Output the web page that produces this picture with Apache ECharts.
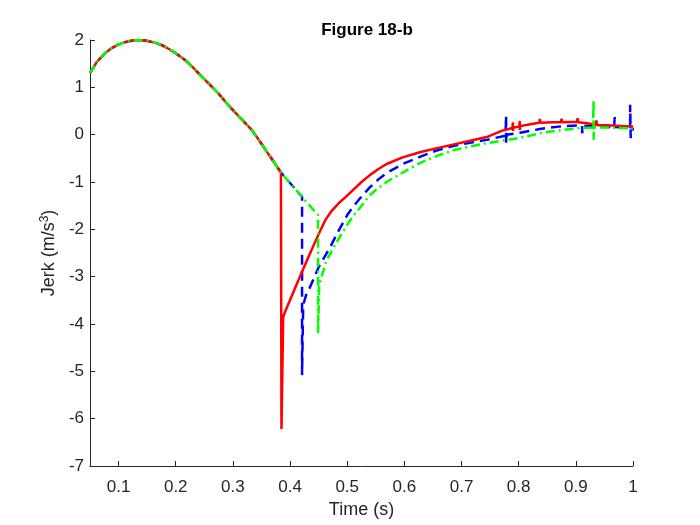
<!DOCTYPE html>
<html>
<head>
<meta charset="utf-8">
<script src="https://cdn.jsdelivr.net/npm/echarts@6/dist/echarts.min.js"></script>
<style>html,body{margin:0;padding:0;background:#fff}#c{width:700px;height:525px}</style>
</head>
<body>
<div id="c"></div>
<script>
// Shared portion of all three curves (time s, jerk m/s^3)
var tCommon = [0.05, 0.062, 0.076, 0.088, 0.099, 0.11, 0.12, 0.13, 0.137, 0.146, 0.155, 0.165, 0.176, 0.188, 0.2, 0.216, 0.23, 0.246, 0.26, 0.274, 0.288, 0.303, 0.318, 0.333, 0.347, 0.361, 0.373, 0.384];
var vCommon = [1.3, 1.54, 1.72, 1.83, 1.9, 1.95, 1.98, 1.995, 2.0, 1.99, 1.97, 1.94, 1.89, 1.81, 1.72, 1.58, 1.42, 1.22, 1.05, 0.88, 0.68, 0.48, 0.29, 0.1, -0.14, -0.39, -0.6, -0.8];

// Red (solid) after divergence
var tRed = [0.385, 0.388, 0.392, 0.405, 0.42, 0.436, 0.452, 0.462, 0.472, 0.485, 0.497, 0.51, 0.525, 0.539, 0.554, 0.569, 0.597, 0.627, 0.655, 0.685, 0.715, 0.744, 0.77, 0.789, 0.79, 0.79, 0.791, 0.801, 0.802, 0.802, 0.803, 0.82, 0.836, 0.837, 0.838, 0.86, 0.874, 0.875, 0.876, 0.89, 0.902, 0.903, 0.904, 0.92, 0.935, 0.936, 0.937, 0.955, 0.97, 0.985, 1.0];
var vRed = [-6.22, -3.85, -3.72, -3.35, -2.92, -2.48, -2.05, -1.8, -1.62, -1.45, -1.32, -1.17, -1.0, -0.86, -0.73, -0.62, -0.48, -0.37, -0.29, -0.21, -0.13, -0.05, 0.08, 0.14, 0.26, 0.08, 0.15, 0.17, 0.29, 0.1, 0.18, 0.22, 0.25, 0.33, 0.25, 0.26, 0.26, 0.34, 0.26, 0.27, 0.27, 0.35, 0.26, 0.24, 0.21, 0.3, 0.2, 0.2, 0.19, 0.18, 0.17];

// Blue (dashed) after divergence
var tBlue = [0.421, 0.421, 0.423, 0.429, 0.435, 0.45, 0.47, 0.484, 0.501, 0.51, 0.522, 0.539, 0.554, 0.569, 0.597, 0.627, 0.655, 0.685, 0.715, 0.744, 0.777, 0.778, 0.778, 0.779, 0.802, 0.837, 0.87, 0.907, 0.911, 0.911, 0.913, 0.942, 0.967, 0.968, 0.969, 0.99, 0.995, 0.995, 0.996, 1.0];
var vBlue = [-1.31, -5.08, -3.6, -3.35, -3.22, -2.8, -2.38, -2.05, -1.68, -1.53, -1.35, -1.12, -0.95, -0.81, -0.62, -0.47, -0.34, -0.24, -0.17, -0.11, -0.02, 0.41, -0.18, 0.0, 0.04, 0.12, 0.17, 0.2, 0.2, 0.03, 0.19, 0.17, 0.16, 0.37, 0.16, 0.15, 0.15, 0.63, -0.07, 0.15];

// Green (dash-dot) after divergence
var tGreen = [0.449, 0.449, 0.451, 0.456, 0.464, 0.48, 0.496, 0.51, 0.522, 0.539, 0.554, 0.569, 0.597, 0.627, 0.655, 0.685, 0.715, 0.744, 0.775, 0.802, 0.837, 0.87, 0.907, 0.93, 0.931, 0.931, 0.932, 0.96, 1.0];
var vGreen = [-1.7, -4.2, -3.2, -2.97, -2.65, -2.3, -1.98, -1.72, -1.55, -1.28, -1.13, -1.0, -0.8, -0.6, -0.46, -0.33, -0.25, -0.18, -0.12, -0.07, 0.03, 0.09, 0.14, 0.15, 0.73, -0.11, 0.15, 0.15, 0.13];

var xTicks = [0.1, 0.2, 0.3, 0.4, 0.5, 0.6, 0.7, 0.8, 0.9, 1];

function pairs(ts, vs) {
  var out = [];
  for (var i = 0; i < ts.length; i++) out.push([ts[i], vs[i]]);
  return out;
}
var redData = pairs(tCommon.concat(tRed), vCommon.concat(vRed));
var blueData = pairs(tCommon.concat(tBlue), vCommon.concat(vBlue));
var greenData = pairs(tCommon.concat(tGreen), vCommon.concat(vGreen));

var axisColor = '#262626';
var font = 'Liberation Sans, Arial, Helvetica, sans-serif';

var chart = echarts.init(document.getElementById('c'), null, {renderer: 'canvas'});
chart.setOption({
  animation: false,
  backgroundColor: '#ffffff',
  title: {
    text: 'Figure 18-b',
    left: 362, top: 17, textAlign: 'center',
    textStyle: {fontFamily: font, fontSize: 17, fontWeight: 'bold', color: '#000'}
  },
  grid: {left: 90, right: 67, top: 40, bottom: 59, containLabel: false},
  xAxis: {
    type: 'value', min: 0.05, max: 1,
    name: 'Time (s)', nameLocation: 'middle', nameGap: 32,
    nameTextStyle: {fontFamily: font, fontSize: 18, color: axisColor},
    axisLine: {onZero: false, lineStyle: {color: axisColor, width: 1}},
    axisTick: {show: true, inside: true, length: 5, customValues: xTicks, lineStyle: {color: axisColor}},
    axisLabel: {customValues: xTicks, margin: 13, fontFamily: font, fontSize: 17, color: axisColor,
      formatter: function (v) { return Math.abs(v - 1) < 1e-9 ? '1' : String(Math.round(v * 10) / 10); }},
    splitLine: {show: false}
  },
  yAxis: {
    type: 'value', min: -7, max: 2, interval: 1,
    name: 'Jerk (m/s{sup|3})', nameLocation: 'middle', nameGap: 25, nameRotate: 90,
    nameTextStyle: {fontFamily: font, fontSize: 18, color: axisColor,
      rich: {sup: {fontFamily: font, fontSize: 12, color: axisColor, verticalAlign: 'top', padding: [0, 0, 9, 0]}}},
    axisLine: {show: true, onZero: false, lineStyle: {color: axisColor, width: 1}},
    axisTick: {show: true, inside: true, length: 5, lineStyle: {color: axisColor}},
    axisLabel: {margin: 6, fontFamily: font, fontSize: 17, color: axisColor},
    splitLine: {show: false}
  },
  series: [
    {type: 'line', name: 'blue', data: blueData, showSymbol: false, symbol: 'none',
     lineStyle: {color: '#0000ff', width: 2.5, type: [10, 6]}, z: 2},
    {type: 'line', name: 'red', data: redData, showSymbol: false, symbol: 'none',
     lineStyle: {color: '#ff0000', width: 2.5, type: 'solid'}, z: 3},
    {type: 'line', name: 'green', data: greenData, showSymbol: false, symbol: 'none',
     lineStyle: {color: '#00ff00', width: 2.5, type: [9, 4, 2, 4]}, z: 4}
  ]
});
</script>
</body>
</html>
